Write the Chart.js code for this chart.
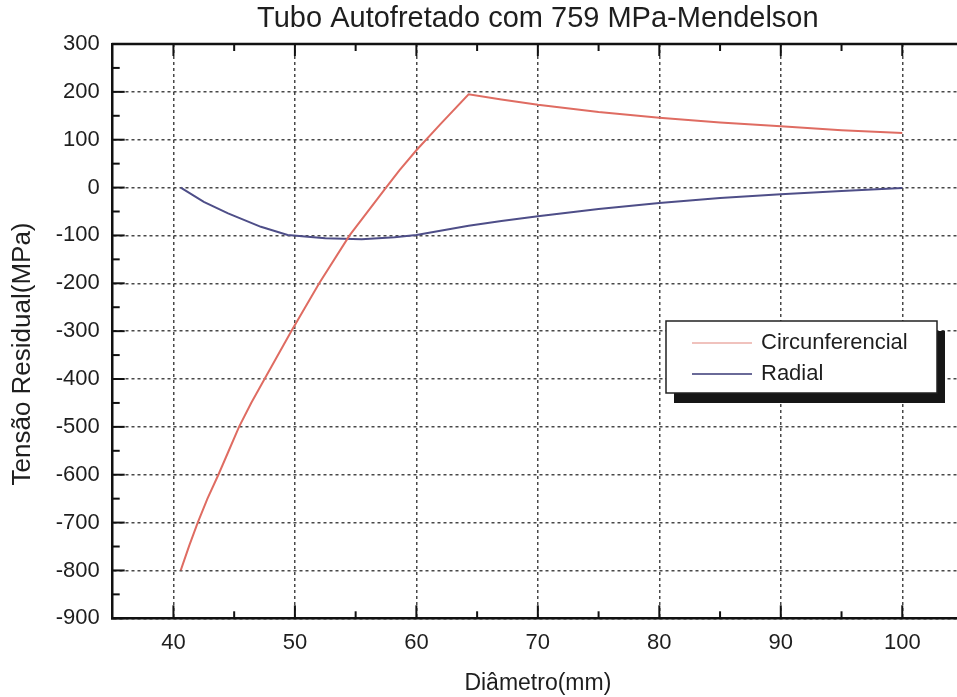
<!DOCTYPE html>
<html lang="pt">
<head>
<meta charset="utf-8">
<title>Tubo Autofretado com 759 MPa-Mendelson</title>
<script src="https://cdn.jsdelivr.net/npm/chart.js@4.4.1/dist/chart.umd.min.js"></script>
<style>
  html, body { margin: 0; padding: 0; background: #fff; overflow: hidden; }
  #wrap { width: 963px; height: 697px; }
</style>
</head>
<body>
<div id="wrap"><canvas id="tensao" width="963" height="697"></canvas></div>
<script>
// Tensão circunferencial residual (MPa) ao longo do diâmetro (mm)
const circDiametro = [40.6, 41.3, 42.0, 42.8, 43.7, 44.5, 45.4, 46.4, 47.5, 49.7, 52.0, 54.5, 57.5, 58.6, 60.0, 62.0, 64.3, 67.0, 70, 75, 80, 85, 90, 95, 100];
const circTensao   = [-800, -748, -700, -650, -600, -553, -500, -450, -400, -300, -200, -100, 0, 36, 78, 133, 195, 184, 173, 158, 146, 136, 128, 120, 114];

// Tensão radial residual (MPa)
const radDiametro = [40.6, 42.5, 44.5, 47.2, 49.4, 52.5, 55.5, 58.2, 60.0, 64.3, 67.0, 70, 75, 80, 85, 90, 95, 100];
const radTensao   = [0, -30, -54, -82, -99, -106, -108, -104, -99, -80, -70, -60, -45, -32, -22, -14, -7, -1];

const nomesSeries = ['Circunferencial', 'Radial'];

// Marcas dos eixos
const ticksDiametro = [40, 50, 60, 70, 80, 90, 100];
const ticksTensao = [300, 200, 100, 0, -100, -200, -300, -400, -500, -600, -700, -800, -900];

const FONTE = 'Arial, "Liberation Sans", Helvetica, sans-serif';
const COR_TEXTO = '#1e1e1e';

function pontos(xs, ys) {
    return xs.map((x, i) => ({ x: x, y: ys[i] }));
}

// Marcas de escala para dentro (maiores e menores), borda superior e título do eixo y
const eixosPlugin = {
    id: 'eixos',
    afterDraw(chart) {
        const { ctx, chartArea: a, scales: { x, y } } = chart;
        ctx.save();
        ctx.strokeStyle = '#111';
        ctx.lineWidth = 2.5;
        ctx.beginPath();
        ctx.moveTo(a.left - 1, a.top);
        ctx.lineTo(a.right, a.top);
        ctx.stroke();

        ctx.lineWidth = 2;
        const traco = (x1, y1, x2, y2) => {
            ctx.beginPath();
            ctx.moveTo(x1, y1);
            ctx.lineTo(x2, y2);
            ctx.stroke();
        };
        const menores = (vals, min, max) => {
            const out = [];
            for (let i = 0; i < vals.length - 1; i++) out.push((vals[i] + vals[i + 1]) / 2);
            if (vals.length > 1) {
                const passo = vals[1] - vals[0];
                const antes = vals[0] - passo / 2;
                const depois = vals[vals.length - 1] + passo / 2;
                if (antes > min && antes < max) out.push(antes);
                if (depois > min && depois < max) out.push(depois);
            }
            return out;
        };

        const xv = x.ticks.map(t => t.value);
        xv.forEach(v => {
            const px = x.getPixelForValue(v);
            traco(px, a.bottom, px, a.bottom - 13);
            traco(px, a.top, px, a.top + 12);
        });
        menores(xv, x.min, x.max).forEach(v => {
            const px = x.getPixelForValue(v);
            traco(px, a.bottom, px, a.bottom - 7);
            traco(px, a.top, px, a.top + 7);
        });

        const yv = y.ticks.map(t => t.value);
        yv.forEach(v => {
            const py = y.getPixelForValue(v);
            traco(a.left, py, a.left + 12, py);
        });
        menores(yv, y.min, y.max).forEach(v => {
            const py = y.getPixelForValue(v);
            traco(a.left, py, a.left + 7, py);
        });

        // título do eixo y
        ctx.translate(23, 354);
        ctx.rotate(-Math.PI / 2);
        ctx.fillStyle = COR_TEXTO;
        ctx.font = '26px ' + FONTE;
        ctx.textAlign = 'center';
        ctx.textBaseline = 'middle';
        ctx.fillText('Tensão Residual(MPa)', 0, 0);
        ctx.restore();
    }
};

// Legenda em caixa com sombra
const legendaPlugin = {
    id: 'legendaCaixa',
    afterDraw(chart, args, opts) {
        const { ctx } = chart;
        const { x, y, w, h, sombra, amostra, cores } = opts;
        ctx.save();
        ctx.fillStyle = '#161616';
        ctx.fillRect(x + sombra[0], y + sombra[1], w, h);
        ctx.fillStyle = '#fff';
        ctx.fillRect(x, y, w, h);
        ctx.strokeStyle = '#222';
        ctx.lineWidth = 1.5;
        ctx.strokeRect(x, y, w, h);

        ctx.font = '22px ' + FONTE;
        ctx.textBaseline = 'middle';
        ctx.textAlign = 'left';
        chart.data.datasets.forEach((ds, i) => {
            const ly = y + 22 + i * 31;
            ctx.strokeStyle = cores[i] || ds.borderColor;
            ctx.lineWidth = 2;
            ctx.beginPath();
            ctx.moveTo(x + amostra[0], ly);
            ctx.lineTo(x + amostra[1], ly);
            ctx.stroke();
            ctx.fillStyle = COR_TEXTO;
            ctx.fillText(ds.label, x + amostra[1] + 9, ly);
        });
        ctx.restore();
    }
};

const grade = {
    color: 'rgba(40,40,40,0.85)',
    lineWidth: 1.5,
    drawTicks: false
};

new Chart(document.getElementById('tensao'), {
    type: 'line',
    data: {
        datasets: [{
            label: nomesSeries[0],
            data: pontos(circDiametro, circTensao),
            borderColor: '#df6c62',
            borderWidth: 2,
            pointRadius: 0,
            tension: 0,
            fill: false
        }, {
            label: nomesSeries[1],
            data: pontos(radDiametro, radTensao),
            borderColor: '#4e4e88',
            borderWidth: 2,
            pointRadius: 0,
            tension: 0,
            fill: false
        }]
    },
    options: {
        responsive: false,
        animation: false,
        devicePixelRatio: 1,
        layout: { padding: 0 },
        plugins: {
            legend: { display: false },
            tooltip: { enabled: false },
            title: {
                display: true,
                text: 'Tubo Autofretado com 759 MPa-Mendelson',
                fullSize: false,
                color: COR_TEXTO,
                font: { family: FONTE, size: 29, weight: 'normal' },
                padding: { top: 2, bottom: 7.2 }
            },
            legendaCaixa: {
                x: 666, y: 321, w: 271, h: 72,
                sombra: [8, 10],
                amostra: [26, 86],
                cores: ['#f0c2bd', '#6a6a98']
            }
        },
        scales: {
            x: {
                type: 'linear',
                min: 35,
                max: 105,
                afterBuildTicks(scale) {
                    scale.ticks = ticksDiametro.map(v => ({ value: v }));
                },
                afterFit(scale) { scale.height = 78.7; },
                ticks: {
                    color: COR_TEXTO,
                    font: { family: FONTE, size: 22 },
                    padding: 11.5,
                    maxRotation: 0
                },
                grid: grade,
                border: { display: true, color: '#111', width: 2.5, dash: [3, 3] },
                title: {
                    display: true,
                    text: 'Diâmetro(mm)',
                    color: COR_TEXTO,
                    font: { family: FONTE, size: 23 },
                    padding: { top: 0, bottom: 0 }
                }
            },
            y: {
                min: -900,
                max: 300,
                afterBuildTicks(scale) {
                    scale.ticks = ticksTensao.map(v => ({ value: v }));
                },
                afterFit(scale) { scale.width = 112.7; },
                ticks: {
                    color: COR_TEXTO,
                    font: { family: FONTE, size: 22 },
                    padding: 13
                },
                grid: grade,
                border: { display: true, color: '#111', width: 2.5, dash: [3, 3] }
            }
        }
    },
    plugins: [eixosPlugin, legendaPlugin]
});
</script>
</body>
</html>
